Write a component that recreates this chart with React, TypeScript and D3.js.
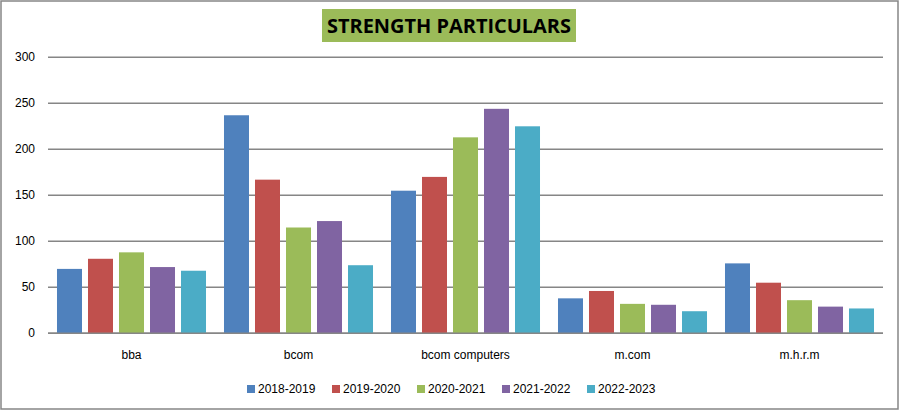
import React from "react";
import * as d3 from "d3";

const categories = ["bba", "bcom", "bcom computers", "m.com", "m.h.r.m"];
const seriesNames = ["2018-2019", "2019-2020", "2020-2021", "2021-2022", "2022-2023"];
const s2018 = [70, 237, 155, 38, 76];
const s2019 = [81, 167, 170, 46, 55];
const s2020 = [88, 115, 213, 32, 36];
const s2021 = [72, 122, 244, 31, 29];
const s2022 = [68, 74, 225, 24, 27];
const seriesValues = [s2018, s2019, s2020, s2021, s2022];
const colors = ["#4F81BD", "#C0504D", "#9BBB59", "#8064A2", "#4BACC6"];
const yTicks = [0, 50, 100, 150, 200, 250, 300];
const title = "STRENGTH PARTICULARS";

export default function App() {
  const W = 900, H = 414;
  const left = 48, right = 883, top = 57.3, bottom = 333.3;
  const x0 = d3.scaleBand<string>().domain(categories).range([left, right]).paddingInner(0).paddingOuter(0);
  const x1 = d3.scaleBand<string>().domain(seriesNames).range([0, x0.bandwidth()]).paddingInner(0.1935).paddingOuter(0.29);
  const y = d3.scaleLinear().domain([0, 300]).range([bottom, top]);
  const font = "'Liberation Sans', Arial, sans-serif";
  const legendStart = 247, legendStep = 85;

  return (
    <svg width={W} height={H} style={{ position: "absolute", left: 0, top: 0, background: "#fff" }} fontFamily={font}>
      <rect x={0} y={0} width={W} height={H} fill="#fff" />
      <rect x={1} y={1} width={897} height={408} fill="#fff" stroke="#868686" strokeWidth={1.5} />
      <rect x={322} y={9} width={254} height={33} fill="#9BBB59" />
      <text x={449} y={33} textAnchor="middle" fontSize={20} fontWeight="bold" fill="#000" textLength={244} lengthAdjust="spacingAndGlyphs" fontFamily="'Open Sans', 'Liberation Sans', sans-serif">{title}</text>
      {yTicks.map((t) => (
        <g key={t}>
          <line x1={left} x2={right} y1={y(t)} y2={y(t)} stroke="#868686" strokeWidth={1.5} />
          <text x={35} y={y(t) + 4} textAnchor="end" fontSize={12} fill="#000">{t}</text>
        </g>
      ))}
      {categories.map((c, ci) => (
        <g key={c}>
          {seriesNames.map((s, si) => {
            const v = seriesValues[si][ci];
            return (
              <rect key={s} x={(x0(c) as number) + (x1(s) as number)} y={y(v)} width={x1.bandwidth()} height={y(0) - y(v)} fill={colors[si]} />
            );
          })}
          <text x={(x0(c) as number) + x0.bandwidth() / 2} y={359} textAnchor="middle" fontSize={12} fill="#000">{c}</text>
        </g>
      ))}
      <line x1={left} x2={right} y1={y(0)} y2={y(0)} stroke="#868686" strokeWidth={1.5} />
      {seriesNames.map((s, si) => (
        <g key={s}>
          <rect x={legendStart + si * legendStep} y={385} width={8} height={8} fill={colors[si]} />
          <text x={legendStart + si * legendStep + 11} y={393} fontSize={12} fill="#000">{s}</text>
        </g>
      ))}
    </svg>
  );
}
